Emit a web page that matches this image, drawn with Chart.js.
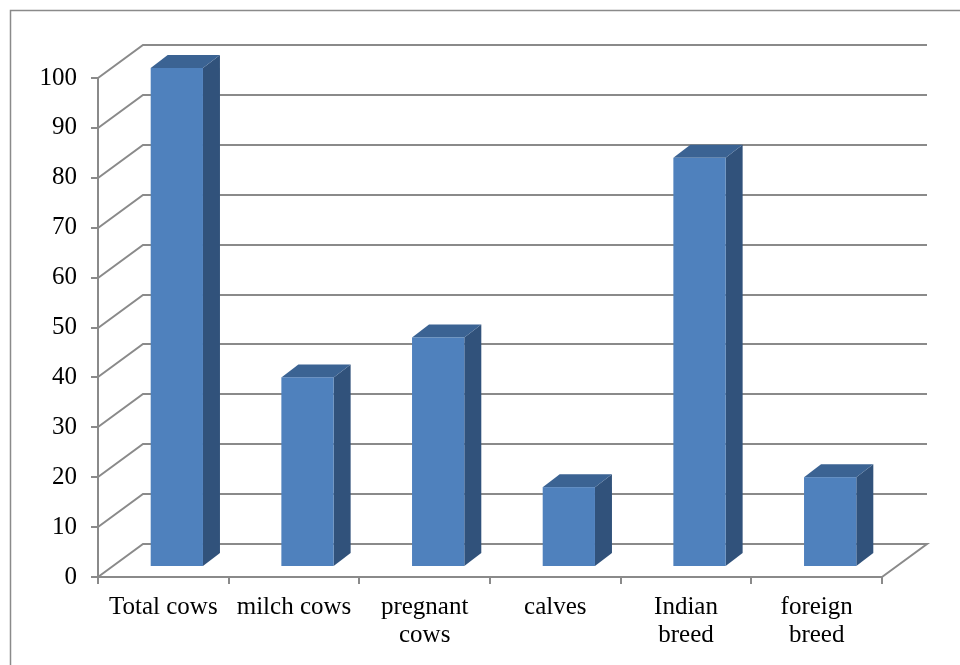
<!DOCTYPE html>
<html>
<head>
<meta charset="utf-8">
<script src="https://cdn.jsdelivr.net/npm/chart.js@4/dist/chart.umd.min.js"></script>
<style>
  html, body { margin: 0; padding: 0; background: #ffffff; }
  canvas { display: block; }
</style>
</head>
<body>
<canvas id="chart" width="960" height="665"></canvas>
<script>
// Herd composition
const categories = [
  'Total cows',
  'milch cows',
  ['pregnant', 'cows'],
  'calves',
  ['Indian', 'breed'],
  ['foreign', 'breed']
];
const counts = [100, 38, 46, 16, 82, 18];
const yMin = 0;
const yMax = 100;
const yStep = 10;

// 3D look: depth of the walls and of each box, in pixels
const WALL_DX = 45, WALL_DY = 33;
const BAR_SHIFT_X = 13.5, BAR_SHIFT_Y = 10;
const BAR_DX = 17, BAR_DY = 13;
const GRID_COLOR = '#8a8a8a';
const FACE = '#4f81bd', SIDE = '#31527b', TOP = '#3b6393';
const FONT = { family: '"Liberation Serif", "Times New Roman", serif', size: 25, lineHeight: 1.14 };

const frame3d = {
  id: 'frame3d',
  beforeDraw(chart) {
    const ctx = chart.ctx;
    ctx.save();
    ctx.fillStyle = '#ffffff';
    ctx.fillRect(0, 0, chart.width, chart.height);
    ctx.strokeStyle = '#8a8a8a';
    ctx.lineWidth = 1.5;
    ctx.beginPath();
    ctx.moveTo(10.5, chart.height + 5);
    ctx.lineTo(10.5, 10.5);
    ctx.lineTo(chart.width + 5, 10.5);
    ctx.stroke();
    ctx.restore();
  },
  beforeDatasetsDraw(chart) {
    const ctx = chart.ctx;
    const { left, right, bottom } = chart.chartArea;
    const y = chart.scales.y;
    ctx.save();
    ctx.strokeStyle = GRID_COLOR;
    ctx.lineWidth = 2;
    ctx.lineJoin = 'miter';
    y.ticks.forEach(t => {
      const py = Math.round(y.getPixelForValue(t.value));
      ctx.beginPath();
      ctx.moveTo(left, py);
      ctx.lineTo(left + WALL_DX, py - WALL_DY);
      ctx.lineTo(right + WALL_DX, py - WALL_DY);
      if (t.value === yMin) {
        ctx.lineTo(right, bottom);
      }
      ctx.stroke();
    });
    ctx.restore();
  },
  afterDatasetsDraw(chart) {
    const ctx = chart.ctx;
    const meta = chart.getDatasetMeta(0);
    ctx.save();
    meta.data.forEach(bar => {
      const p = bar.getProps(['x', 'y', 'base', 'width'], true);
      const fl = p.x - p.width / 2 + BAR_SHIFT_X;
      const fr = fl + p.width;
      const top = p.y - BAR_SHIFT_Y;
      const bot = p.base - BAR_SHIFT_Y;
      // side
      ctx.fillStyle = SIDE;
      ctx.beginPath();
      ctx.moveTo(fr, bot);
      ctx.lineTo(fr + BAR_DX, bot - BAR_DY);
      ctx.lineTo(fr + BAR_DX, top - BAR_DY);
      ctx.lineTo(fr, top);
      ctx.closePath();
      ctx.fill();
      // top
      ctx.fillStyle = TOP;
      ctx.beginPath();
      ctx.moveTo(fl, top);
      ctx.lineTo(fl + BAR_DX, top - BAR_DY);
      ctx.lineTo(fr + BAR_DX, top - BAR_DY);
      ctx.lineTo(fr, top);
      ctx.closePath();
      ctx.fill();
      // front
      ctx.fillStyle = FACE;
      ctx.fillRect(fl, top, p.width, bot - top);
    });
    ctx.restore();
  }
};

new Chart(document.getElementById('chart'), {
  type: 'bar',
  data: {
    labels: categories,
    datasets: [{
      data: counts,
      backgroundColor: 'rgba(0,0,0,0)',
      borderWidth: 0,
      barPercentage: 0.4,
      categoryPercentage: 1
    }]
  },
  options: {
    responsive: false,
    animation: false,
    layout: { padding: { top: 78, right: 78, left: 0, bottom: 0 } },
    plugins: { legend: { display: false }, tooltip: { enabled: false } },
    scales: {
      x: {
        grid: { drawOnChartArea: false, drawTicks: true, tickLength: 7, color: GRID_COLOR, lineWidth: 2, offset: true },
        border: { display: true, color: GRID_COLOR, width: 2 },
        ticks: { font: FONT, color: '#000000', padding: 9, maxRotation: 0, autoSkip: false },
        afterFit(s) { s.height = 88; }
      },
      y: {
        min: yMin,
        max: yMax,
        grid: { drawOnChartArea: false, drawTicks: true, tickLength: 7, color: GRID_COLOR, lineWidth: 2 },
        border: { display: true, color: GRID_COLOR, width: 2 },
        ticks: { stepSize: yStep, font: FONT, color: '#000000', padding: 14 },
        afterFit(s) { s.width = 98; }
      }
    }
  },
  plugins: [frame3d]
});
</script>
</body>
</html>
